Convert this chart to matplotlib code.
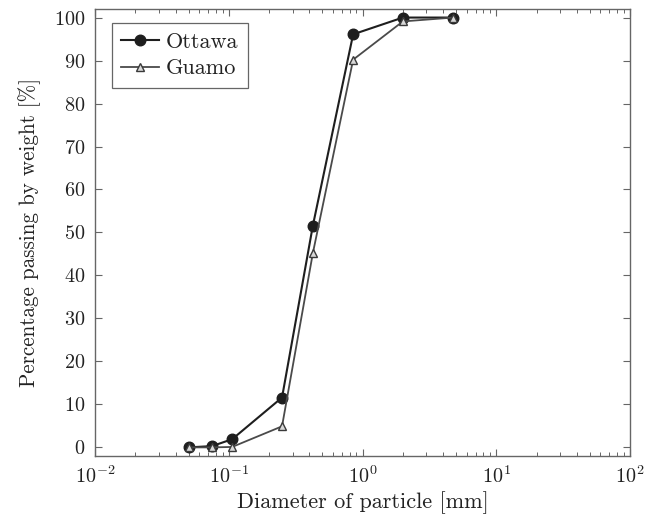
import numpy as np
import matplotlib
matplotlib.use('Agg')
import matplotlib.pyplot as plt
from matplotlib.ticker import LogLocator, NullFormatter

plt.rcParams['font.family'] = 'serif'
plt.rcParams['font.serif'] = ['cmr10']
plt.rcParams['mathtext.fontset'] = 'cm'
plt.rcParams['axes.formatter.use_mathtext'] = True

# --- data: sieve sizes [mm] and percentage passing ---
sieve_mm = [0.05, 0.075, 0.106, 0.25, 0.425, 0.85, 2.0, 4.75]
ottawa = [0.0, 0.3, 1.9, 11.6, 51.6, 96.1, 100.0, 100.0]
guamo = [0.0, 0.0, 0.1, 4.9, 45.2, 90.2, 99.1, 100.0]
y_ticks = list(range(0, 101, 10))

fig = plt.figure(figsize=(6.53, 5.21), dpi=100)
ax = fig.add_axes([0.1455, 0.1248, 0.8195, 0.858])

ax.plot(sieve_mm, ottawa, color='#1e1e1e', lw=1.5, marker='o', ms=7.6,
        markerfacecolor='#1e1e1e', markeredgecolor='#1e1e1e', label='Ottawa')
ax.plot(sieve_mm, guamo, color='#4a4a4a', lw=1.3, marker='^', ms=5.5,
        markerfacecolor='#d8d8d8', markeredgecolor='#3a3a3a', markeredgewidth=1.0,
        label='Guamo')

ax.set_xscale('log')
ax.set_xlim(1e-2, 1e2)
ax.set_ylim(-2, 102)
ax.set_yticks(y_ticks)
ax.xaxis.set_major_locator(LogLocator(base=10, numticks=10))
ax.xaxis.set_minor_locator(LogLocator(base=10, subs=np.arange(2, 10), numticks=10))
ax.xaxis.set_minor_formatter(NullFormatter())

for s in ax.spines.values():
    s.set_color('#666666')
    s.set_linewidth(1.0)
ax.tick_params(which='both', direction='in', top=True, right=True, colors='#666666',
               labelcolor='#222222', labelsize=14.5)
ax.tick_params(which='major', length=5, width=0.8, pad=7)
ax.tick_params(which='minor', length=3, width=0.7)

ax.set_xlabel('Diameter of particle [mm]', fontsize=16, color='#222222', labelpad=3)
ax.set_ylabel('Percentage passing by weight [%]', fontsize=15.2, color='#222222', labelpad=9)

leg = ax.legend(loc='upper left', fontsize=16, fancybox=False, framealpha=1,
                edgecolor='#666666', borderpad=0.42, handlelength=1.7,
                handletextpad=0.3, labelspacing=0.32, borderaxespad=0,
                bbox_to_anchor=(0.032, 0.969))
leg.get_frame().set_linewidth(0.9)
for t in leg.get_texts():
    t.set_color('#222222')

fig.savefig('out.png', dpi=100)
